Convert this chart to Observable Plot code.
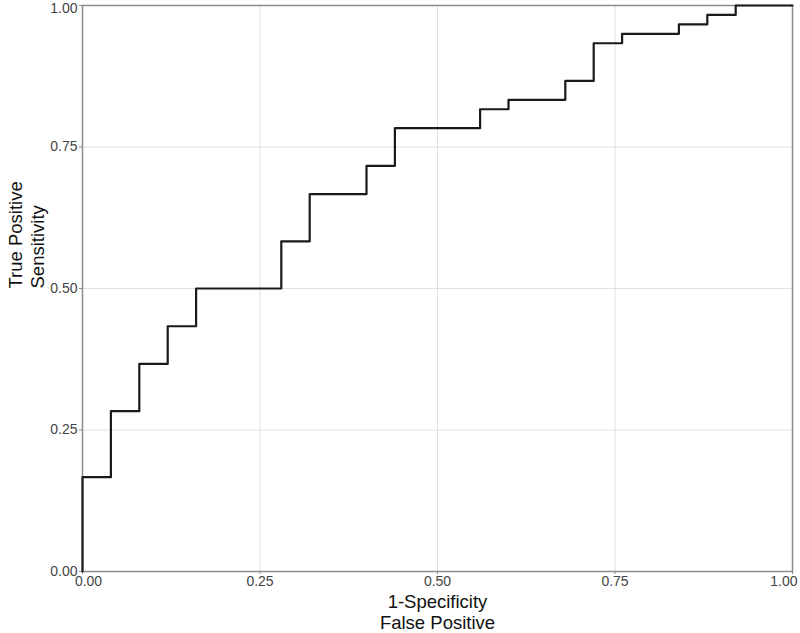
<!DOCTYPE html>
<html>
<head>
<meta charset="utf-8">
<script src="https://cdn.jsdelivr.net/npm/d3@7"></script>
<script src="https://cdn.jsdelivr.net/npm/@observablehq/plot@0.6"></script>
<style>
  html, body { margin: 0; padding: 0; background: #fff; }
  svg { display: block; overflow: visible; }
  g[aria-label$="tick label"] text { font-size: 14px !important; }
</style>
</head>
<body>
<div id="chart"></div>
<script>
// ROC curve points (1-Specificity, Sensitivity)
const fpr = [0, 0, 0.04, 0.08, 0.12, 0.16, 0.28, 0.32, 0.40, 0.44, 0.56, 0.60, 0.68, 0.72, 0.76, 0.84, 0.88, 0.92, 1.00];
const tpr = [0, 0.1667, 0.2833, 0.3667, 0.4333, 0.5, 0.5833, 0.6667, 0.7167, 0.7833, 0.8167, 0.8333, 0.8667, 0.9333, 0.95, 0.9667, 0.9833, 1.0, 1.0];
const tickValues = [0, 0.25, 0.5, 0.75, 1];
const xLabel = "1-Specificity\nFalse Positive";
const yLabel = "True Positive\nSensitivity";

const data = fpr.map((x, i) => ({x, y: tpr[i]}));
const fmt = d3.format(".2f");

const chart = Plot.plot({
  width: 800,
  height: 633,
  marginLeft: 82,
  marginTop: 5,
  marginRight: 8,
  marginBottom: 62,
  style: {fontFamily: "'Liberation Sans', Arial, sans-serif", fontSize: "14px", color: "#444", background: "#fff", overflow: "visible"},
  x: {domain: [0, 1]},
  y: {domain: [0, 1]},
  marks: [
    Plot.gridX(tickValues, {stroke: "#e0e0e0", strokeOpacity: 1, strokeWidth: 1}),
    Plot.gridY(tickValues, {stroke: "#e0e0e0", strokeOpacity: 1, strokeWidth: 1}),
    Plot.frame({stroke: "#8c8c8c", strokeWidth: 1.5}),
    Plot.axisX(tickValues, {tickFormat: () => "", tickSize: 3, label: null, stroke: "#8c8c8c"}),
    Plot.axisX(tickValues.slice(1, -1), {tickFormat: fmt, tickSize: 0, tickPadding: 5, label: null, fill: "#444", fontSize: 14}),
    Plot.axisX(tickValues.slice(0, 1), {tickFormat: fmt, tickSize: 0, tickPadding: 5, dx: 6, label: null, fill: "#444", fontSize: 14}),
    Plot.axisX(tickValues.slice(-1), {tickFormat: fmt, tickSize: 0, tickPadding: 5, textAnchor: "end", dx: 5, label: null, fill: "#444", fontSize: 14}),
    Plot.axisY(tickValues, {tickFormat: () => "", tickSize: 3, label: null, stroke: "#8c8c8c"}),
    Plot.axisY(tickValues.slice(0, -1), {tickFormat: fmt, tickSize: 0, tickPadding: 5, label: null, fill: "#444", fontSize: 14}),
    Plot.axisY(tickValues.slice(-1), {tickFormat: fmt, tickSize: 0, tickPadding: 5, dy: 3, label: null, fill: "#444", fontSize: 14}),
    Plot.line(data, {x: "x", y: "y", curve: "step-after", stroke: "#1a1a1a", strokeWidth: 2.2}),
    Plot.text([xLabel], {frameAnchor: "bottom", dy: 40, lineAnchor: "middle", lineHeight: 1.18, fontSize: 18.5, fill: "#111", text: d => d}),
    Plot.text([yLabel], {frameAnchor: "left", dx: -57, rotate: -90, lineAnchor: "middle", lineHeight: 1.2, fontSize: 18.5, fill: "#111", text: d => d})
  ]
});
document.getElementById("chart").appendChild(chart);
</script>
</body>
</html>
